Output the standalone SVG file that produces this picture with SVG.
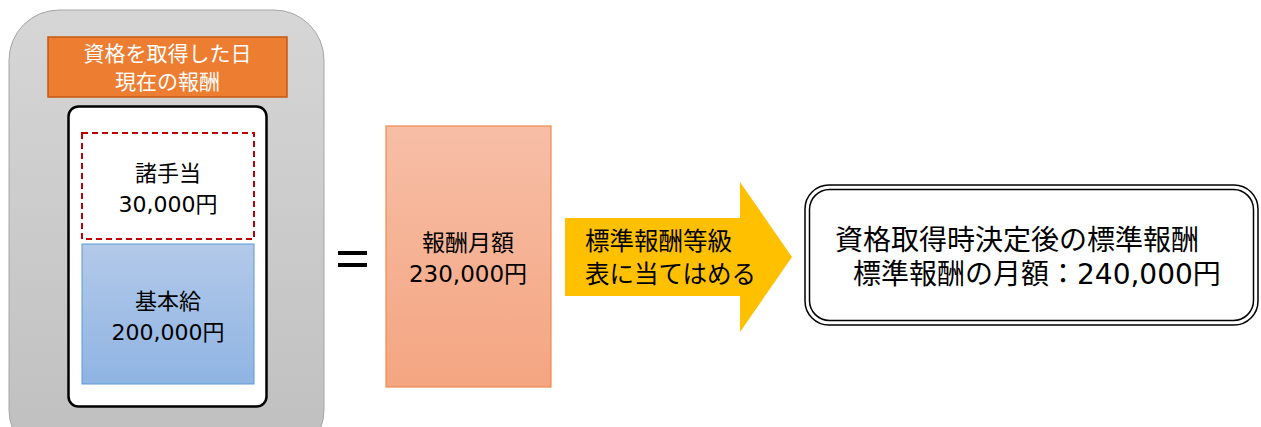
<svg xmlns="http://www.w3.org/2000/svg" width="1261" height="427" viewBox="0 0 1261 427">
<defs>
<linearGradient id="gGray" x1="0" y1="0" x2="0" y2="1"><stop offset="0" stop-color="#d6d6d6"/><stop offset="1" stop-color="#bfbfbf"/></linearGradient>
<linearGradient id="gBlue" x1="0" y1="0" x2="0" y2="1"><stop offset="0" stop-color="#b3c9e9"/><stop offset="1" stop-color="#8fb4e3"/></linearGradient>
<linearGradient id="gOrange" x1="0" y1="0" x2="0" y2="1"><stop offset="0" stop-color="#f7bea6"/><stop offset="1" stop-color="#f4a581"/></linearGradient>
</defs>
<style>
text{font-family:"DejaVu Sans","Noto Sans CJK JP",sans-serif;fill:#000}
.c{text-anchor:middle}
.w{fill:#fff}
.j{font-family:"Noto Sans CJK JP",sans-serif}
</style>
<rect width="1261" height="427" fill="#fff"/>
<g id="container">
<rect x="9" y="10" width="315" height="450" rx="50" fill="url(#gGray)" stroke="#a6a6a6" stroke-width="1"/>
</g>
<g id="header">
<rect x="48" y="37" width="239" height="60" fill="#ed7d31" stroke="#c55a11" stroke-width="1.5"/>
<text class="c w j" font-size="21"><tspan x="167.5" y="61">資格を取得した日</tspan><tspan x="167.5" y="89">現在の報酬</tspan></text>
</g>
<g id="salaryBox">
<rect x="68.5" y="106.5" width="198" height="300" rx="10" fill="#fff" stroke="#000" stroke-width="2.5"/>
</g>
<g id="allowance">
<rect x="82" y="133" width="172" height="106" fill="#fff" stroke="#c00000" stroke-width="2" stroke-dasharray="6,4"/>
<text class="c" font-size="22"><tspan x="168" y="181">諸手当</tspan><tspan x="168" y="212">30,000円</tspan></text>
</g>
<g id="basic">
<rect x="82" y="244" width="172" height="140" fill="url(#gBlue)" stroke="#5b9bd5" stroke-width="1"/>
<text class="c" font-size="22"><tspan x="168" y="309">基本給</tspan><tspan x="168" y="340">200,000円</tspan></text>
</g>
<g id="equals">
<rect x="338" y="251" width="29" height="4" fill="#000"/>
<rect x="338" y="263" width="29" height="4" fill="#000"/>
</g>
<g id="monthly">
<rect x="386" y="126" width="165" height="261" fill="url(#gOrange)" stroke="#f08a4b" stroke-width="1.2"/>
<text class="c" font-size="23"><tspan x="468" y="251">報酬月額</tspan><tspan x="468" y="282">230,000円</tspan></text>
</g>
<g id="connectors">
<polygon points="565,218 740,218 740,182 792,257 740,332 740,296 565,296" fill="#ffc000"/>
<text class="j" font-size="24.5"><tspan x="585" y="250">標準報酬等級</tspan><tspan x="585" y="283">表に当てはめる</tspan></text>
</g>
<g id="result">
<rect x="805" y="185" width="453" height="140" rx="24" fill="#fff" stroke="#000" stroke-width="1.5"/>
<rect x="809.5" y="189.5" width="444" height="131" rx="20" fill="#fff" stroke="#000" stroke-width="1.5"/>
<text font-size="28"><tspan x="835" y="250">資格取得時決定後の標準報酬</tspan><tspan x="853" y="284">標準報酬の月額：240,000円</tspan></text>
</g>
</svg>
